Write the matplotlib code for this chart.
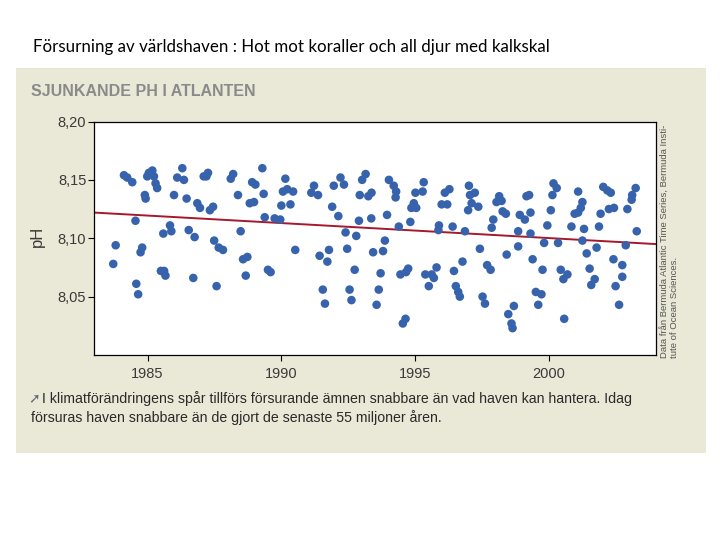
import matplotlib
matplotlib.use('Agg')
import matplotlib.pyplot as plt
from matplotlib.patches import Rectangle

# points: year and pH
years = [
    1984.12, 1984.24, 1984.43, 1985.05, 1985.18, 1984.99, 1985.24, 1985.30, 1985.36, 1986.30,
    1986.11, 1986.36, 1987.10, 1984.90, 1984.93, 1985.99, 1986.46, 1986.86, 1986.96, 1984.55,
    1985.84, 1985.89, 1985.59, 1986.54, 1986.76, 1983.81, 1984.80, 1984.74, 1983.72, 1985.50,
    1985.62, 1985.67, 1986.71, 1984.58, 1984.65,
    1987.26, 1987.20, 1988.20, 1988.11, 1989.29, 1988.91, 1989.03, 1990.15, 1990.06, 1990.22,
    1990.44, 1991.22, 1991.12, 1991.37, 1988.38, 1989.34, 1988.82, 1988.98, 1987.45, 1987.33,
    1990.00, 1990.34, 1989.38, 1989.75, 1989.96, 1988.48, 1987.49, 1987.66, 1987.82, 1990.52,
    1991.43, 1988.57, 1988.73, 1989.50, 1989.60, 1988.67, 1987.58,
    1992.21, 1991.96, 1992.34, 1993.15, 1993.02, 1994.02, 1994.20, 1994.29, 1994.27, 1995.32,
    1995.01, 1995.28, 1992.93, 1993.25, 1993.37, 1994.95, 1994.86, 1995.04, 1991.90, 1992.13,
    1993.95, 1992.90, 1993.36, 1994.39, 1994.82, 1992.40, 1992.80, 1993.87, 1991.78, 1991.72,
    1992.46, 1993.43, 1993.80, 1992.74, 1993.71, 1994.45, 1994.74, 1994.66, 1995.38, 1995.51,
    1991.55, 1991.63, 1992.55, 1992.62, 1993.64, 1993.56, 1994.64, 1994.54,
    1996.11, 1996.28, 1995.99, 1996.20, 1997.01, 1997.05, 1997.23, 1997.11, 1996.98, 1997.36,
    1998.14, 1998.04, 1998.23, 1998.27, 1998.39, 1999.16, 1999.26, 1998.91, 1999.10, 1999.31,
    1997.92, 1997.86, 1995.89, 1995.87, 1996.40, 1996.86, 1998.85, 1999.31, 1997.42, 1998.42,
    1998.85, 1996.77, 1996.45, 1997.69, 1997.82, 1999.39, 1995.80, 1995.62, 1995.70, 1996.52,
    1996.61, 1996.67, 1997.52, 1997.61, 1998.69, 1998.48, 1998.60, 1998.64, 1999.51, 1999.60,
    1999.76,
    2000.17, 2000.29, 2000.13, 2000.07, 1999.94, 2001.09, 2001.25, 2001.19, 2000.96, 2001.09,
    2001.93, 2002.03, 2002.18, 2002.31, 2002.24, 2002.43, 2003.24, 2003.11, 2003.09, 2002.93,
    2000.84, 2001.31, 2001.87, 2003.28, 1999.82, 2000.34, 2001.25, 2001.78, 2001.41, 2002.87,
    2002.41, 2002.74, 2000.44, 2000.69, 2000.54, 2001.52, 2001.71, 2001.58, 2002.74, 2002.49,
    1999.72, 2000.57, 2002.62,
]
ph_values = [
    8.154, 8.152, 8.148, 8.156, 8.158, 8.153, 8.153, 8.147, 8.143, 8.160,
    8.152, 8.150, 8.153, 8.137, 8.134, 8.137, 8.134, 8.130, 8.126, 8.115,
    8.111, 8.106, 8.104, 8.107, 8.101, 8.094, 8.092, 8.088, 8.078, 8.072,
    8.072, 8.068, 8.066, 8.061, 8.052,
    8.156, 8.153, 8.155, 8.151, 8.160, 8.148, 8.146, 8.151, 8.140, 8.142,
    8.140, 8.145, 8.139, 8.137, 8.137, 8.138, 8.130, 8.131, 8.127, 8.124,
    8.128, 8.129, 8.118, 8.117, 8.116, 8.106, 8.098, 8.092, 8.090, 8.090,
    8.085, 8.082, 8.084, 8.073, 8.071, 8.068, 8.059,
    8.152, 8.145, 8.146, 8.155, 8.150, 8.150, 8.145, 8.140, 8.135, 8.148,
    8.139, 8.140, 8.137, 8.136, 8.139, 8.130, 8.126, 8.126, 8.127, 8.119,
    8.120, 8.115, 8.117, 8.110, 8.114, 8.105, 8.102, 8.098, 8.090, 8.080,
    8.091, 8.088, 8.089, 8.073, 8.070, 8.069, 8.074, 8.071, 8.069, 8.059,
    8.056, 8.044, 8.056, 8.047, 8.056, 8.043, 8.031, 8.027,
    8.139, 8.142, 8.129, 8.129, 8.145, 8.137, 8.139, 8.130, 8.124, 8.127,
    8.136, 8.131, 8.132, 8.123, 8.121, 8.136, 8.137, 8.120, 8.116, 8.122,
    8.116, 8.109, 8.111, 8.107, 8.110, 8.106, 8.106, 8.104, 8.091, 8.086,
    8.093, 8.080, 8.072, 8.077, 8.073, 8.082, 8.075, 8.069, 8.066, 8.059,
    8.054, 8.050, 8.050, 8.044, 8.042, 8.035, 8.027, 8.023, 8.054, 8.043,
    8.073,
    8.147, 8.143, 8.137, 8.124, 8.111, 8.140, 8.131, 8.126, 8.121, 8.122,
    8.121, 8.144, 8.141, 8.139, 8.125, 8.126, 8.143, 8.137, 8.133, 8.125,
    8.110, 8.108, 8.110, 8.106, 8.096, 8.096, 8.098, 8.092, 8.087, 8.094,
    8.082, 8.077, 8.073, 8.069, 8.065, 8.074, 8.065, 8.060, 8.067, 8.059,
    8.052, 8.031, 8.043,
]

# trend line, drawn over the whole period
trend_years = [1983, 2004]
trend_ph = [8.122, 8.095]

x_ticks = [1985, 1990, 1995, 2000]
x_tick_labels = ['1985', '1990', '1995', '2000']
y_ticks = [8.05, 8.10, 8.15, 8.20]
y_tick_labels = ['8,05', '8,10', '8,15', '8,20']

title_text = 'Försurning av världshaven : Hot mot koraller och all djur med kalkskal'
header_text = 'SJUNKANDE PH I ATLANTEN'
source_text = 'Data från Bermuda Atlantic Time Series, Bermuda Insti-\ntute of Ocean Sciences.'
caption_line1 = 'I klimatförändringens spår tillförs försurande ämnen snabbare än vad haven kan hantera. Idag'
caption_line2 = 'försuras haven snabbare än de gjort de senaste 55 miljoner åren.'

W, H = 720, 540
beige = '#eae8d6'
dot_blue = '#3763ad'
trend_red = '#a5192d'
sans = ['Liberation Sans', 'DejaVu Sans']

fig = plt.figure(figsize=(7.2, 5.4), dpi=100)
fig.patch.set_facecolor('white')

# beige background of the pasted graphic
fig.add_artist(Rectangle((16 / W, 1 - 453 / H), 690 / W, 385 / H,
                         transform=fig.transFigure, facecolor=beige,
                         edgecolor='none', zorder=0))

fig.text(33 / W, 1 - 47 / H, title_text, family=['Lato', 'DejaVu Sans'],
         fontsize=12.2, va='center', ha='left', color='black')
fig.text(31 / W, 1 - 91 / H, header_text, family=sans,
         fontsize=11.5, fontweight='bold', va='center', ha='left', color='#8a8a8a')

ax = fig.add_axes([94 / W, 1 - 355 / H, 562 / W, 233.5 / H])
ax.set_facecolor('white')

ax.scatter(years, ph_values, s=38, color=dot_blue, edgecolors='none', zorder=3)
ax.plot(trend_years, trend_ph, color=trend_red, linewidth=1.4, zorder=2)

ax.set_xlim(1983, 2004)
ax.set_ylim(8.0, 8.2)
ax.set_xticks(x_ticks)
ax.set_xticklabels(x_tick_labels)
ax.set_yticks(y_ticks)
ax.set_yticklabels(y_tick_labels)
ax.tick_params(axis='both', direction='out', length=4, width=0.8, color='black',
               labelsize=10.5, labelcolor='#3a3a3a')
ax.tick_params(axis='x', pad=5)
ax.tick_params(axis='y', pad=1.5)
for lab in ax.get_xticklabels() + ax.get_yticklabels():
    lab.set_family(sans)
for sp in ax.spines.values():
    sp.set_color('black')
    sp.set_linewidth(0.9)

fig.text(37 / W, 1 - 236 / H, 'pH', family=sans, fontsize=12, rotation=90,
         va='center', ha='center', color='#3a3a3a')

# source note running up the right side
fig.text(660 / W, 1 - 358 / H, source_text, family=sans, fontsize=6.8,
         rotation=90, ha='left', va='bottom', multialignment='left',
         color='#555555', linespacing=1.15)

# caption under the chart
fig.text(28 / W, 1 - 398 / H, '➚', family=['DejaVu Sans'], fontsize=10,
         va='center', ha='left', color='#5f6b78')
fig.text(42 / W, 1 - 399 / H, caption_line1, family=sans, fontsize=10.2,
         va='center', ha='left', color='#2a2a2a')
fig.text(31 / W, 1 - 418 / H, caption_line2, family=sans, fontsize=10.2,
         va='center', ha='left', color='#2a2a2a')

fig.savefig('out.png', dpi=100, facecolor='white')
